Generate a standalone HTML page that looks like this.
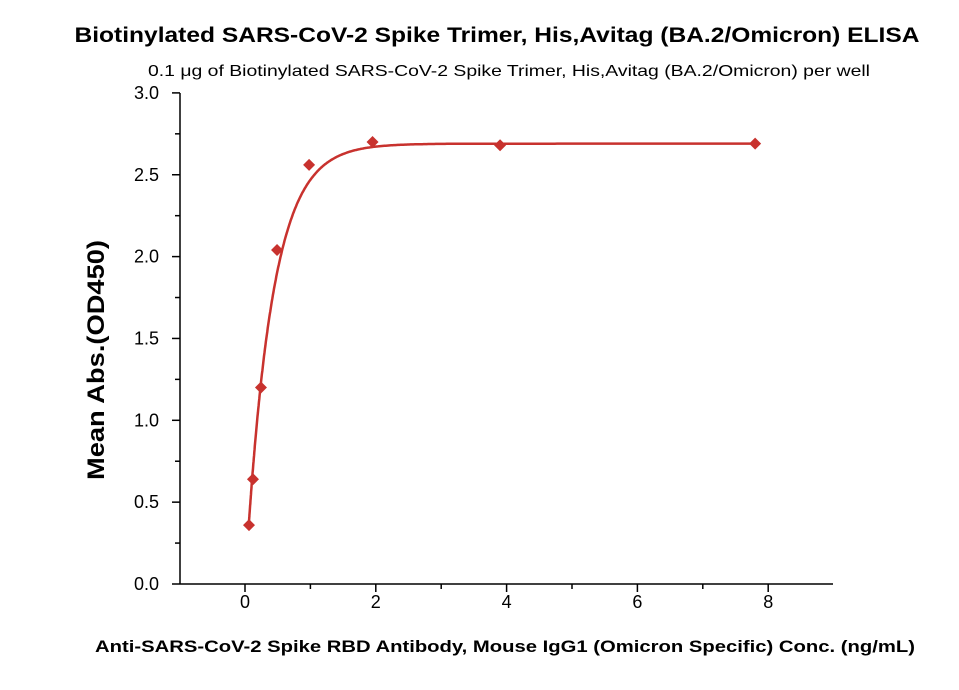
<!DOCTYPE html>
<html><head><meta charset="utf-8"><style>
body{margin:0;background:#fff;}
svg text{font-family:"Liberation Sans",sans-serif;}
</style></head><body>
<svg id="chart" width="959" height="685" xmlns="http://www.w3.org/2000/svg">
<text x="497" y="42" text-anchor="middle" font-size="21" font-weight="bold" textLength="845" lengthAdjust="spacingAndGlyphs">Biotinylated SARS-CoV-2 Spike Trimer, His,Avitag (BA.2/Omicron) ELISA</text>
<text x="509" y="76" text-anchor="middle" font-size="16" textLength="722" lengthAdjust="spacingAndGlyphs">0.1 μg of Biotinylated SARS-CoV-2 Spike Trimer, His,Avitag (BA.2/Omicron) per well</text>
<text transform="translate(104,360) rotate(-90)" text-anchor="middle" font-size="24" font-weight="bold" textLength="240" lengthAdjust="spacingAndGlyphs">Mean Abs.(OD450)</text>
<text x="505" y="652" text-anchor="middle" font-size="17" font-weight="bold" textLength="820" lengthAdjust="spacingAndGlyphs">Anti-SARS-CoV-2 Spike RBD Antibody, Mouse IgG1 (Omicron Specific) Conc. (ng/mL)</text>
<g id="axes"></g><g id="curve"></g><g id="points"></g>
</svg>
<script>
const concs=[0.061,0.122,0.244,0.49,0.98,1.95,3.9,7.8];
const absVals=[0.36,0.64,1.2,2.04,2.56,2.70,2.68,2.69];
const xTicks=[0,2,4,6,8];
const yTicks=[0.0,0.5,1.0,1.5,2.0,2.5,3.0];
const NS="http://www.w3.org/2000/svg";
const X=v=>245+v*65.4, Y=v=>584-v*163.7;
function mk(t,a,p){const e=document.createElementNS(NS,t);for(const k in a)e.setAttribute(k,a[k]);p.appendChild(e);return e;}
const ax=document.getElementById('axes');
let l=mk('line',{x1:180,y1:584,x2:833,y2:584,stroke:'#000','stroke-width':1.5},ax);


l=mk('line',{x1:180,y1:584,x2:180,y2:93,stroke:'#000','stroke-width':1.5},ax);


for(let v=-1;v<=9;v++){const x=X(v);if(x<180||x>833)continue;const major=v%2===0;
 mk('line',{x1:x,y1:584,x2:x,y2:584+(major?8:5),stroke:'#000','stroke-width':1.5},ax);}
xTicks.forEach(v=>{const t=mk('text',{x:X(v),y:608,'text-anchor':'middle','font-size':18},ax);t.textContent=v;
 
 });
for(let v=0;v<=3.001;v+=0.25){const major=Math.abs(v*2-Math.round(v*2))<1e-6;
 mk('line',{x1:180,y1:Y(v),x2:180-(major?8:5),y2:Y(v),stroke:'#000','stroke-width':1.5},ax);}
yTicks.forEach(v=>{const t=mk('text',{x:159,y:Y(v)+6,'text-anchor':'end','font-size':18},ax);t.textContent=v.toFixed(1);
 
 });
const f=x=>2.69*(1-Math.exp(-x/0.4));
let d='';for(let i=0;i<=400;i++){const x=0.061+(7.8-0.061)*Math.pow(i/400,2);d+=(i?'L':'M')+X(x).toFixed(1)+','+Y(f(x)).toFixed(1);}
const c=mk('path',{d:d,fill:'none',stroke:'#c8322e','stroke-width':2.5},document.getElementById('curve'));


const pg=document.getElementById('points');
concs.forEach((x,i)=>{const cx=X(x),cy=Y(absVals[i]);
 const p=mk('polygon',{points:`${cx},${cy-6} ${cx+6},${cy} ${cx},${cy+6} ${cx-6},${cy}`,fill:'#c8322e'},pg);
 
 });
</script>
</body></html>
